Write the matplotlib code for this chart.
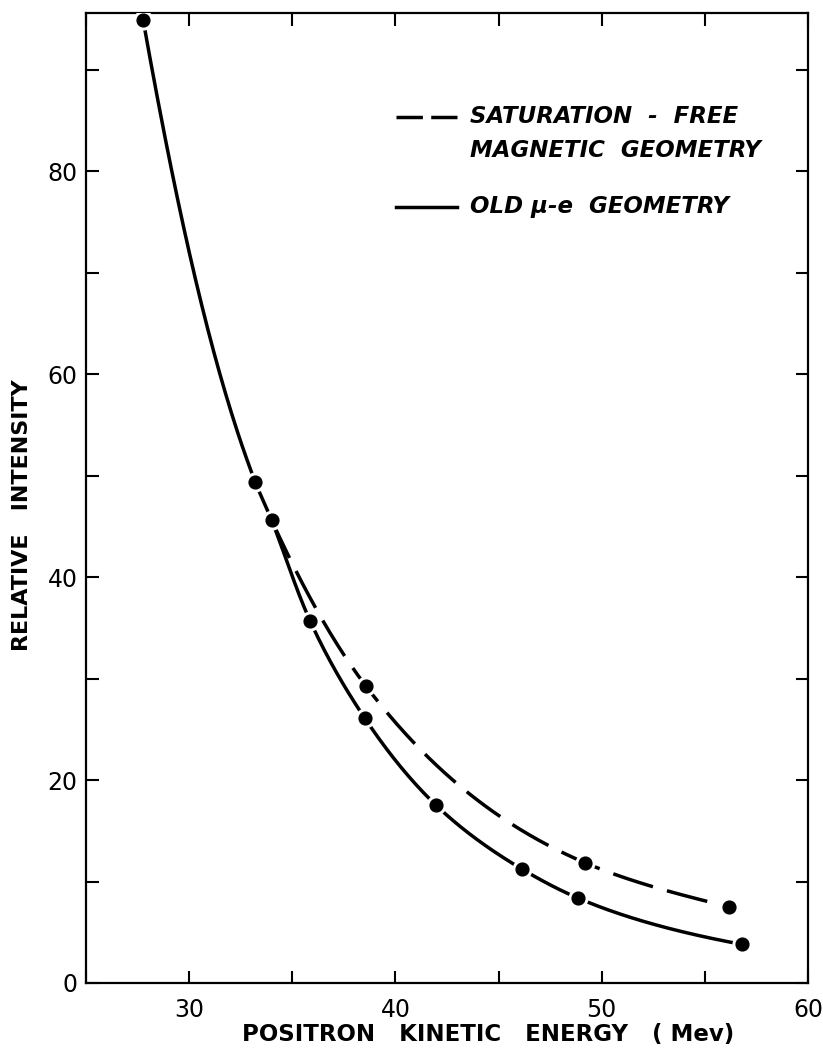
import numpy as np
import matplotlib
matplotlib.use("Agg")
import matplotlib.pyplot as plt
from matplotlib.ticker import MultipleLocator, FuncFormatter
from matplotlib.lines import Line2D

# ---- data ----
old_x = [27.77, 33.2, 34.0, 35.86, 38.52, 41.96, 46.13, 48.85, 56.79]
old_y = [94.9, 49.4, 45.6, 35.7, 26.08, 17.54, 11.23, 8.37, 3.81]
sat_x = [34.0, 38.57, 49.19, 56.16]
sat_y = [45.6, 29.26, 11.85, 7.52]

sat_label_1 = "SATURATION  -  FREE"
sat_label_2 = "MAGNETIC  GEOMETRY"
old_label = "OLD μ-e  GEOMETRY"
xlabel = "POSITRON   KINETIC   ENERGY   ( Mev)"
ylabel = "RELATIVE   INTENSITY"


def pchip(x, y, xs):
    x = np.asarray(x, float)
    y = np.asarray(y, float)
    h = np.diff(x)
    d = np.diff(y) / h
    n = len(x)
    m = np.zeros(n)
    for k in range(1, n - 1):
        if d[k - 1] * d[k] <= 0:
            m[k] = 0.0
        else:
            w1 = 2 * h[k] + h[k - 1]
            w2 = h[k] + 2 * h[k - 1]
            m[k] = (w1 + w2) / (w1 / d[k - 1] + w2 / d[k])
    m[0] = d[0]
    m[-1] = d[-1]
    out = np.empty_like(xs)
    idx = np.clip(np.searchsorted(x, xs) - 1, 0, n - 2)
    for i, (xv, k) in enumerate(zip(xs, idx)):
        t = (xv - x[k]) / h[k]
        h00 = 2 * t**3 - 3 * t**2 + 1
        h10 = t**3 - 2 * t**2 + t
        h01 = -2 * t**3 + 3 * t**2
        h11 = t**3 - t**2
        out[i] = h00 * y[k] + h10 * h[k] * m[k] + h01 * y[k + 1] + h11 * h[k] * m[k + 1]
    return out


def smooth(xp, yp):
    xs = np.linspace(xp[0], xp[-1], 400)
    ys = np.exp(pchip(xp, np.log(yp), xs))
    return xs, ys


fig = plt.figure(figsize=(8.23, 10.57), dpi=100)
ax = fig.add_axes([86 / 823, 74 / 1057, 722 / 823, 970 / 1057])
ax.set_xlim(25, 60)
ax.set_ylim(0, 95.6)

lw = 2.5
xs, ys = smooth(old_x, old_y)
ax.plot(xs, ys, color="black", lw=lw, solid_capstyle="butt", zorder=2)
xs2, ys2 = smooth(sat_x, sat_y)
ax.plot(xs2, ys2, color="black", lw=lw, linestyle=(0, (12.0, 4.2)),
        dash_capstyle="butt", zorder=2)

for xp, yp in ((old_x, old_y), (sat_x[1:], sat_y[1:])):
    ax.plot(xp, yp, "o", color="white", ms=13.5, mec="white", zorder=3)
    ax.plot(xp, yp, "o", color="black", ms=9.2, mec="black", zorder=4)

# ticks
ax.xaxis.set_major_locator(MultipleLocator(5))
ax.yaxis.set_major_locator(MultipleLocator(10))
ax.xaxis.set_major_formatter(FuncFormatter(
    lambda v, p: f"{v:.0f}" if (round(v) % 10 == 0) else ""))
ax.yaxis.set_major_formatter(FuncFormatter(
    lambda v, p: f"{v:.0f}" if (round(v) % 20 == 0) else ""))
ax.tick_params(direction="in", length=9, width=1.5, top=True, right=True,
               labelsize=17)
ax.tick_params(axis="x", pad=11)
ax.tick_params(axis="y", pad=6)
for s in ax.spines.values():
    s.set_linewidth(1.6)

# axis labels
fig.text(488 / 823, 1 - 1035 / 1057, xlabel, ha="center", va="center",
         fontsize=16.5, fontweight="bold")
fig.text(22 / 823, 1 - 515 / 1057, ylabel, ha="center", va="center",
         fontsize=16, fontweight="bold", rotation=90)

# legend (manual)
ax.add_line(Line2D([0.429, 0.514], [0.893, 0.893], transform=ax.transAxes,
                   color="black", lw=lw, linestyle=(0, (7.6, 2.4)),
                   dash_capstyle="butt"))
ax.add_line(Line2D([0.429, 0.514], [0.800, 0.800], transform=ax.transAxes,
                   color="black", lw=lw))
legend_font = dict(transform=ax.transAxes, ha="left", va="center",
                   fontsize=16.5, style="italic", fontweight="bold")
ax.text(0.532, 0.893, sat_label_1, **legend_font)
ax.text(0.532, 0.858, sat_label_2, **legend_font)
ax.text(0.532, 0.800, old_label, **legend_font)

fig.savefig("out.png", dpi=100)
